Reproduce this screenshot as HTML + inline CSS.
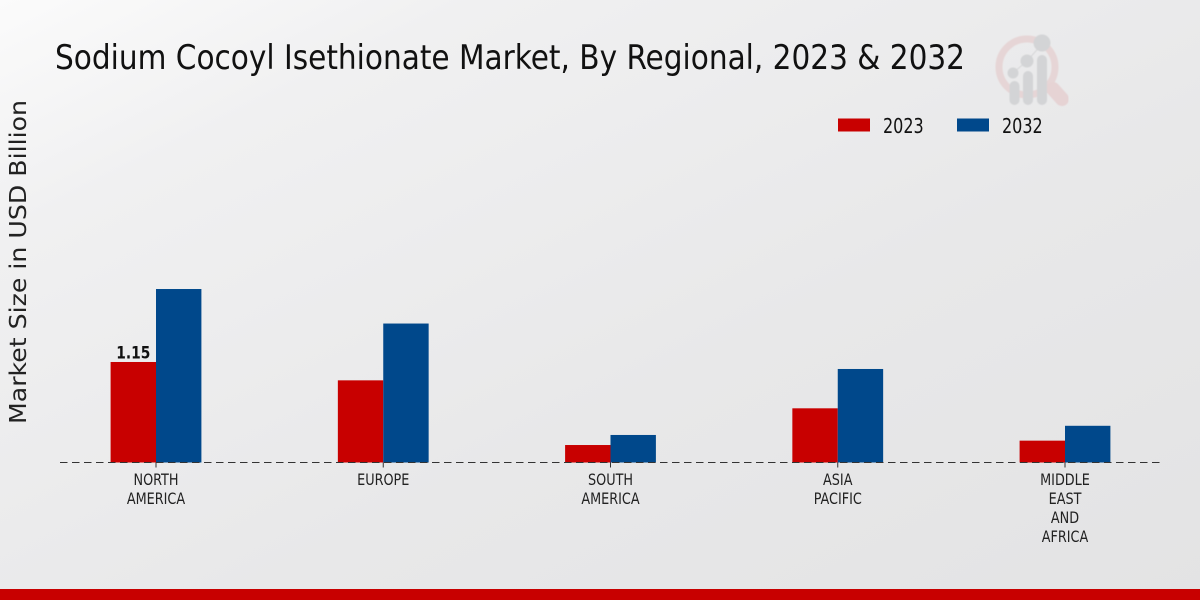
<!DOCTYPE html>
<html lang="en">
<head>
<meta charset="utf-8">
<title>Sodium Cocoyl Isethionate Market</title>
<style>
html,body{margin:0;padding:0;width:1200px;height:600px;overflow:hidden;background:#e8e8e9}
svg{display:block}
text{font-family:"DejaVu Sans Condensed","DejaVu Sans","Liberation Sans",sans-serif;font-stretch:condensed}
</style>
</head>
<body>
<svg id="chart" width="1200" height="600" viewBox="0 0 1200 600" xmlns="http://www.w3.org/2000/svg">
<defs>
<linearGradient id="bg" x1="0" y1="0" x2="1" y2="1">
<stop offset="0" stop-color="#fbfbfb"/>
<stop offset="0.2" stop-color="#f0f0f1"/>
<stop offset="0.6" stop-color="#e8e8e9"/>
<stop offset="1" stop-color="#e3e3e4"/>
</linearGradient>
<filter id="soft" x="-10%" y="-10%" width="120%" height="120%"><feGaussianBlur stdDeviation="0.6"/></filter>
</defs>
<rect width="1200" height="600" fill="url(#bg)"/>
<g filter="url(#soft)">
<circle cx="1027" cy="67" r="28" fill="none" stroke="#e6d5d6" stroke-width="7"/>
<line x1="1053" y1="89" x2="1062" y2="99" stroke="#e6d3d4" stroke-width="14" stroke-linecap="round"/>
<polyline points="1013,73 1027,61 1043,43" fill="none" stroke="#d6d6d8" stroke-width="1"/>
<circle cx="1013" cy="73" r="5.5" fill="#d3d4d6"/>
<circle cx="1027" cy="61" r="6.5" fill="#d3d4d6"/>
<circle cx="1042" cy="43" r="8.5" fill="#d3d4d6"/>
<rect x="1009.5" y="81" width="10" height="24" rx="5" fill="#d3d4d6"/>
<rect x="1023" y="71" width="10" height="34" rx="5" fill="#d3d4d6"/>
<rect x="1037" y="55" width="10" height="50" rx="5" fill="#d3d4d6"/>
</g>
<text x="55" y="69" font-size="34" fill="#111" textLength="910" lengthAdjust="spacingAndGlyphs">Sodium Cocoyl Isethionate Market, By Regional, 2023 &amp; 2032</text>
<text transform="translate(26,262) rotate(-90)" text-anchor="middle" font-size="23.5" fill="#222" textLength="324" lengthAdjust="spacingAndGlyphs" style="font-family:'DejaVu Sans',sans-serif;font-stretch:normal">Market Size in USD Billion</text>
<g id="legend"></g>
<g id="bars"></g>
<line x1="60" y1="462.5" x2="1160" y2="462.5" stroke="#333" stroke-width="1" stroke-dasharray="7.5,4.5"/>
<g id="labels"></g>
<rect x="0" y="589" width="1200" height="11" fill="#c80000"/>
</svg>
<script>
var categories = [["NORTH","AMERICA"],["EUROPE"],["SOUTH","AMERICA"],["ASIA","PACIFIC"],["MIDDLE","EAST","AND","AFRICA"]];
var seriesNames = ["2023","2032"];
var values2023 = [1.15,0.94,0.20,0.62,0.25];
var values2032 = [1.985,1.59,0.315,1.07,0.42];
var printedValues2023 = ["1.15",null,null,null,null];

var SVG_NS = "http://www.w3.org/2000/svg";
var baseY = 462.5, unitPx = 87.4, firstX = 156, stepX = 227.25, barW = 45.4;
var colors = ["#c80000","#00488b"];
function xCenter(i){ return firstX + i * stepX; }
function yScale(v){ return baseY - v * unitPx; }
function make(tag, attrs, parent){
  var el = document.createElementNS(SVG_NS, tag);
  for (var k in attrs) el.setAttribute(k, attrs[k]);
  parent.appendChild(el);
  return el;
}
var barsG = document.getElementById("bars");
var labelsG = document.getElementById("labels");
var legendG = document.getElementById("legend");
[values2023, values2032].forEach(function(vals, s){
  vals.forEach(function(v, i){
    var x = s === 0 ? xCenter(i) - barW : xCenter(i);
    var bar = make("rect", {x:x, y:yScale(v), width:barW, height:baseY - yScale(v), fill:colors[s]}, barsG);
    
    
  });
});
printedValues2023.forEach(function(t, i){
  if (t === null) return;
  var lab = make("text", {transform:"translate(" + (xCenter(i) - barW / 2) + "," + (yScale(values2023[i]) - 3.5) + ") scale(0.93,1)", "text-anchor":"middle", "font-size":"16.5", "font-weight":"bold", fill:"#111"}, barsG);
  
  
  lab.textContent = t;
});
categories.forEach(function(lines, i){
  var tick = make("line", {x1:xCenter(i), x2:xCenter(i), y1:baseY, y2:baseY + 5, stroke:"#333", "stroke-width":1}, labelsG);
  
  
  lines.forEach(function(line, j){
    var t = make("text", {transform:"translate(" + xCenter(i) + "," + (485 + j * 19) + ") scale(0.89,1)", "text-anchor":"middle", "font-size":"16", fill:"#222"}, labelsG);
    
    
    t.textContent = line;
  });
});
seriesNames.forEach(function(name, s){
  var lx = 838 + s * 119;
  var sw = make("rect", {x:lx, y:118.5, width:32, height:13, fill:colors[s]}, legendG);
  
  
  var t = make("text", {transform:"translate(" + (lx + 45) + ",133) scale(0.89,1)", "font-size":"20", fill:"#111"}, legendG);
  
  
  t.textContent = name;
});
</script>
</body>
</html>
